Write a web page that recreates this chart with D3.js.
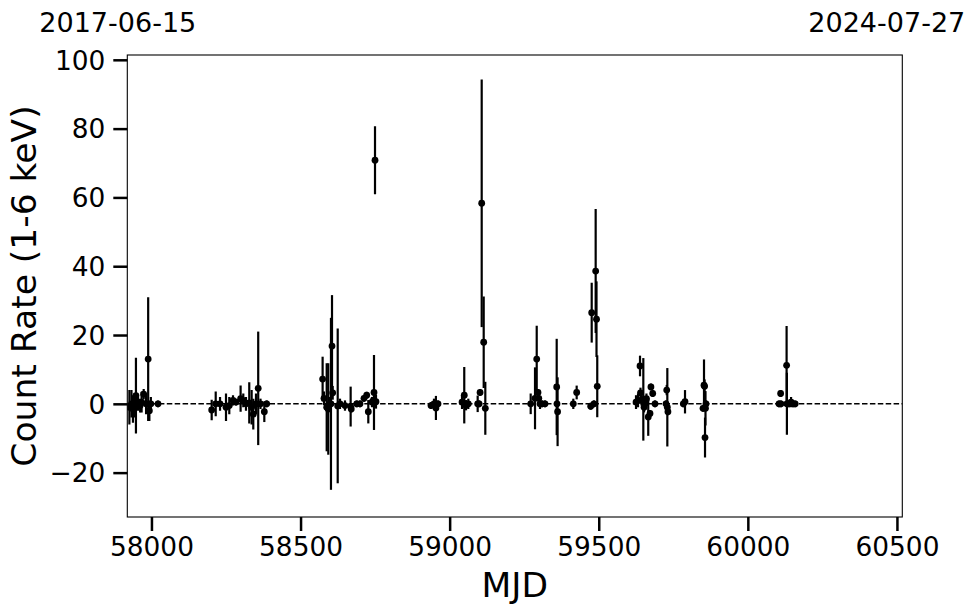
<!DOCTYPE html>
<html>
<head>
<meta charset="utf-8">
<script src="https://cdn.jsdelivr.net/npm/d3@7"></script>
<style>
  body { margin: 0; background: #fff; }
  svg { display: block; }
  text { font-family: "DejaVu Sans", sans-serif; fill: #000; }
</style>
</head>
<body>
<svg id="chart" width="980" height="613"></svg>
<script>
// ---- data ----
const mjd = [
  57926, 57933, 57938, 57943, 57948, 57955, 57962, 57967, 57974, 57982, 57989, 57993, 57998, 58022,
  58202, 58215.5, 58230, 58250, 58261, 58273.5, 58283.5, 58299, 58308, 58317, 58328, 58336, 58341.5, 58350.6, 58358, 58365.7, 58378.5, 58386.5,
  58574, 58578.6, 58587.7, 58593, 58598.8, 58602, 58605.5, 58607.8, 58624.6, 58632.3, 58649, 58668, 58670, 58688.3, 58699.4, 58712.8, 58721.8, 58727.2, 58739.6, 58744, 58746.3, 58749.7, 58753,
  58937.5, 58947.5, 58954, 58961,
  59041.5, 59049, 59055, 59062.6, 59094, 59099, 59102, 59107.5, 59114.2, 59119.6,
  59271.8, 59286.3, 59292, 59296.3, 59299, 59303, 59309.7, 59319.8, 59359, 59360, 59362, 59414.7, 59426,
  59473, 59476.4, 59484, 59489.7, 59492.5, 59495,
  59625, 59631.7, 59638.4, 59640, 59643.4, 59649.5, 59652, 59655, 59660, 59666, 59671.9, 59675, 59681, 59688.7,
  59725.6, 59728, 59730, 59732, 59783.6, 59789.3,
  59849.7, 59853, 59855, 59856.4, 59858, 59859.8,
  60104.5, 60110, 60111, 60130, 60131, 60138, 60145, 60152, 60158.9
];
const rate = [
  -1, 0, -1.5, -1, 2.4, 0, -0.5, 0.5, 2.8, 0, 13, -2, 0, 0,
  -1.8, 0, 0, -1, -0.5, 1, 0.5, 1.5, 1, 0, 0.3, -1, -3, 0, 4.5, 0, -2.3, 0,
  7.2, 1.6, -1, -1.5, 0, 0, 16.8, 3.2, -0.6, 0, -0.5, -0.8, -1.5, 0, 0, 1.6, 2.5, -2.3, 0.5, 1, 3.3, 70.8, 0.6,
  -0.5, 0, -1.2, 0,
  0.5, 2.5, -0.4, 0, 0, 0, 3.3, 58.3, 17.9, -1.3,
  0, 1.6, 13, 3.3, 1.6, 0, 0, 0, 4.9, 0, -2.3, 0, 3.3,
  -0.7, 26.5, 0, 38.6, 24.6, 5.1,
  0.5, 1, 11, 3.2, 1, 1.3, -1, 0, 1.5, -3.8, -2.8, 4.9, 3, 0,
  0, 4, -1, -2.3, 0, 0.6,
  -1.3, 5.4, 5.1, -9.8, -1.3, 0,
  0, 3, 0, 11.2, 0, 0, 0.5, 0, 0
];
const err = [
  5, 4, 4, 3, 11, 2, 2, 3, 1.5, 3, 18, 3, 2, 1,
  3, 3.6, 2, 4, 2.5, 1.5, 1, 3.8, 2, 2, 6, 5, 4.5, 3, 16.5, 1.5, 3, 1,
  6.5, 2, 12.8, 13.3, 2, 25, 14.8, 2, 22.5, 1.5, 1.5, 5.8, 1, 1, 1, 1, 1, 3.4, 1.5, 1, 10.9, 9.9, 2,
  1, 1.5, 3.5, 1,
  2, 8.2, 1.5, 1.5, 2.4, 1, 1, 36, 13.3, 7.7,
  3, 9, 9.7, 1, 1, 1.5, 1, 1, 14, 1, 10, 1.5, 2,
  1, 8.7, 1, 18, 11, 9,
  2, 2, 3, 1.5, 1.5, 12, 1.5, 1.5, 1.5, 5.5, 1, 1, 1, 1,
  1, 1.5, 11.4, 1, 1, 3.4,
  1, 7.5, 2, 5.8, 5, 1,
  1, 1, 1, 11.4, 9, 1, 1.5, 1, 1
];
const xTicks = [58000, 58500, 59000, 59500, 60000, 60500];
const yTicks = [-20, 0, 20, 40, 60, 80, 100];
const xDomain = [57919, 60518];
const yDomain = [-32.9, 101.4];
const topLabels = ["2017-06-15", "2024-07-27"];
const xLabel = "MJD";
const yLabel = "Count Rate (1-6 keV)";

// ---- layout ----
const L = 127.3, R = 902.3, T = 55, B = 517;
const svg = d3.select("#chart");
const x = d3.scaleLinear().domain(xDomain).range([L, R]);
const y = d3.scaleLinear().domain(yDomain).range([B, T]);

svg.append("defs").append("clipPath").attr("id", "clip")
  .append("rect").attr("x", L).attr("y", T).attr("width", R - L).attr("height", B - T);

// zero line
svg.append("line")
  .attr("x1", L).attr("x2", R).attr("y1", y(0)).attr("y2", y(0))
  .attr("stroke", "#000").attr("stroke-width", 1.5)
  .attr("stroke-dasharray", "5.5,2.4");

const data = mjd.map((m, i) => ({ m, v: rate[i], e: err[i] }));
const g = svg.append("g").attr("clip-path", "url(#clip)");
g.selectAll("line.eb").data(data).join("line").attr("class", "eb")
  .attr("x1", d => x(d.m)).attr("x2", d => x(d.m))
  .attr("y1", d => y(d.v - d.e)).attr("y2", d => y(d.v + d.e))
  .attr("stroke", "#000").attr("stroke-width", 2.2);
g.selectAll("circle").data(data).join("circle")
  .attr("cx", d => x(d.m)).attr("cy", d => y(d.v)).attr("r", 3.4)
  .attr("fill", "#000");

// frame
svg.append("rect").attr("x", L).attr("y", T).attr("width", R - L).attr("height", B - T)
  .attr("fill", "none").attr("stroke", "#000").attr("stroke-width", 1.1);

// axes
const fmt = d3.format("d");
const ax = svg.append("g").attr("transform", `translate(0,${B})`)
  .call(d3.axisBottom(x).tickValues(xTicks).tickSize(14).tickPadding(6).tickFormat(fmt));
const ay = svg.append("g").attr("transform", `translate(${L},0)`)
  .call(d3.axisLeft(y).tickValues(yTicks).tickSize(14).tickPadding(8).tickFormat(d => fmt(d).replace("-", "\u2212")));
[ax, ay].forEach(a => {
  a.select(".domain").remove();
  a.selectAll(".tick line").attr("stroke", "#000").attr("stroke-width", 2.5);
  a.selectAll(".tick text").attr("font-size", 26.4).attr("font-family", "DejaVu Sans").attr("fill", "#000");
});
ay.selectAll(".tick text").attr("dy", "0.35em");

// top date labels
svg.append("text").attr("x", x(xDomain[0]) - 9.5).attr("y", 32.3)
  .attr("text-anchor", "middle").attr("font-size", 27).text(topLabels[0]);
svg.append("text").attr("x", x(xDomain[1]) - 15.5).attr("y", 32.3)
  .attr("text-anchor", "middle").attr("font-size", 27).text(topLabels[1]);

// axis labels
svg.append("text").attr("x", (L + R) / 2).attr("y", 597)
  .attr("text-anchor", "middle").attr("font-size", 34.5).text(xLabel);
svg.append("text").attr("transform", `translate(36,${(T + B) / 2}) rotate(-90)`)
  .attr("text-anchor", "middle").attr("font-size", 34.5).text(yLabel);
</script>
</body>
</html>
